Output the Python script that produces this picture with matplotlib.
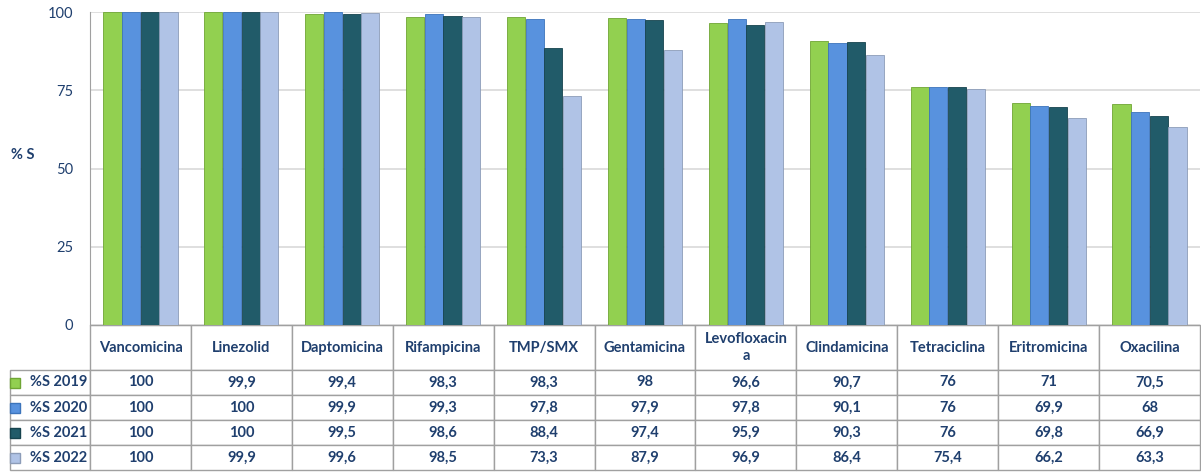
import numpy as np
import matplotlib.pyplot as plt
from matplotlib.table import Table

plt.rcParams['font.family'] = ['Lato', 'DejaVu Sans']

categories = ['Vancomicina', 'Linezolid', 'Daptomicina', 'Rifampicina', 'TMP/SMX',
              'Gentamicina', 'Levofloxacin\na', 'Clindamicina', 'Tetraciclina',
              'Eritromicina', 'Oxacilina']
series_names = ['%S 2019', '%S 2020', '%S 2021', '%S 2022']
s2019 = [100, 99.9, 99.4, 98.3, 98.3, 98, 96.6, 90.7, 76, 71, 70.5]
s2020 = [100, 100, 99.9, 99.3, 97.8, 97.9, 97.8, 90.1, 76, 69.9, 68]
s2021 = [100, 100, 99.5, 98.6, 88.4, 97.4, 95.9, 90.3, 76, 69.8, 66.9]
s2022 = [100, 99.9, 99.6, 98.5, 73.3, 87.9, 96.9, 86.4, 75.4, 66.2, 63.3]
series = [s2019, s2020, s2021, s2022]
colors = ['#92D050', '#5892DE', '#215B69', '#B0C3E6']
edges = ['#6FA534', '#3C74BB', '#16434E', '#8C9CB8']

txt = '#1F3F6E'
grid = '#D9D9D9'
line = '#A0A0A0'

fig = plt.figure(figsize=(12.01, 4.72), dpi=100)
ax = fig.add_axes([90/1201, 1 - 325/472, 1110/1201, 313/472])

x = np.arange(len(categories))
w = 0.185
for j, vals in enumerate(series):
    ax.bar(x + (j - 1.5) * w, vals, w * 0.97, color=colors[j],
           edgecolor=edges[j], linewidth=0.6, zorder=3)

ax.set_xlim(-0.5, len(categories) - 0.5)
ax.set_ylim(0, 100)
ax.set_yticks([0, 25, 50, 75, 100])
ax.set_xticks([])
ax.tick_params(axis='y', length=0, labelsize=10.5, labelcolor=txt, pad=12)
ax.grid(axis='y', color=grid, linewidth=1.2, zorder=0)
for s in ['top', 'right']:
    ax.spines[s].set_visible(False)
ax.spines['left'].set_color(line)
ax.spines['bottom'].set_color(line)
ax.set_ylabel('% S', rotation=0, fontsize=10.5, fontweight='bold', color=txt)
ax.yaxis.set_label_coords(-0.061, 0.52)

# data table under the axes
hh = 45 / 313
hd = 25 / 313
total = hh + 4 * hd
ncol = len(categories)
tb = Table(ax, bbox=[0, -total, 1, total])
for j, name in enumerate(categories):
    c = tb.add_cell(0, j, width=1 / ncol, height=hh, text=name, loc='center')
    c.get_text().set_color(txt)
    c.get_text().set_fontweight('bold')
    c.set_edgecolor(line)
for i, vals in enumerate(series):
    c = tb.add_cell(i + 1, -1, width=80 / 1110, height=hd,
                    text=series_names[i], loc='right')
    c.PAD = 0.03
    c.get_text().set_color(txt)
    c.get_text().set_fontweight('bold')
    c.set_edgecolor(line)
    for j, v in enumerate(vals):
        label = ('%g' % v).replace('.', ',')
        c = tb.add_cell(i + 1, j, width=1 / ncol, height=hd, text=label, loc='center')
        c.get_text().set_color(txt)
        c.get_text().set_fontweight('bold')
        c.set_edgecolor(line)
tb.auto_set_font_size(False)
tb.set_fontsize(10.5)
ax.add_table(tb)

# legend keys in the row label cells
for i in range(len(series)):
    yk = -hh - (i + 0.5) * hd
    ax.plot([-0.0675], [yk], marker='s', markersize=6.5, color=colors[i],
            markeredgecolor=edges[i], transform=ax.transAxes, clip_on=False)

fig.savefig('out.png', dpi=100)
